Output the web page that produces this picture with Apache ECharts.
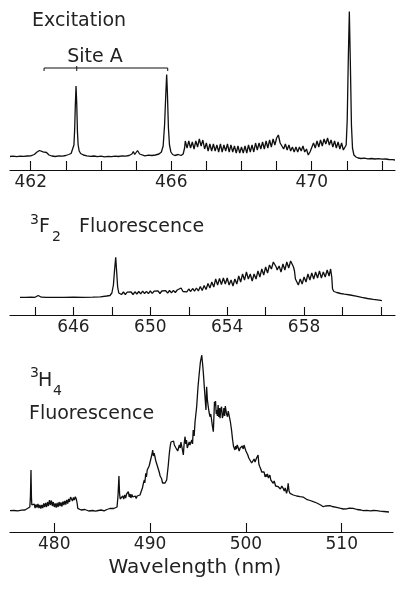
<!DOCTYPE html>
<html>
<head>
<meta charset="utf-8">
<script src="https://cdn.jsdelivr.net/npm/echarts@6/dist/echarts.min.js"></script>
<style>
html,body{margin:0;padding:0;background:#fff;}
#chart{width:405px;height:590px;}
</style>
</head>
<body>
<div id="chart"></div>
<script>
// ---------- Tick / label values ----------
const excTicks = [462,463,464,465,466,467,468,469,470,471,472];
const excLabels = [462,466,470];
const f2Ticks = [644,646,648,650,652,654,656,658,660,662];
const f2Labels = [646,650,654,658];
const h4Ticks = [480,490,500,510];
const h4Labels = [480,490,500,510];

// ---------- Excitation spectrum (wavelength nm, intensity a.u.) ----------
const excitation = [
[461.41,13.5],[461.5,13.8],[461.6,13.4],[461.7,13.9],[461.8,13.6],[461.9,14.0],[462.0,14.2],[462.1,15.5],[462.18,18],[462.25,19.5],[462.3,19],[462.35,18.2],[462.4,19],[462.45,17.5],[462.52,15],[462.6,14],[462.7,13.5],[462.8,14.2],[462.9,13.8],[463.0,14.5],[463.08,15.5],[463.15,16.5],[463.2,18],[463.23,25],[463.25,40],[463.27,65],[463.29,84],[463.31,66],[463.33,38],[463.35,25],[463.38,19],[463.42,16.5],[463.5,15],[463.6,14.2],[463.7,13.6],[463.8,14],[463.9,13.3],[464.0,13.8],[464.1,13.2],[464.2,13.7],[464.3,13.4],[464.4,13.9],[464.5,13.5],[464.6,14.2],[464.7,13.8],[464.8,14.5],[464.88,16],[464.92,18.5],[464.96,15.5],[465.0,16],[465.04,19.5],[465.07,20],[465.1,16],[465.15,14.5],[465.25,14.2],[465.35,14.8],[465.45,14.5],[465.55,15],[465.65,16],[465.72,18],[465.77,24],[465.81,45],[465.85,80],[465.87,95.5],[465.89,78],[465.92,42],[465.95,25],[465.99,18],[466.04,15.5],[466.1,14.5],[466.2,15.5],[466.28,14.5],[466.34,16],[466.38,22],
[466.40,29],[466.45,22],[466.50,29],[466.55,22],[466.60,28],[466.65,21],[466.70,29],[466.75,23],[466.80,31],[466.85,24],[466.90,30],[466.95,21],[467.00,27],[467.05,19],[467.10,26],[467.15,19],[467.20,26],[467.25,19],[467.30,25],[467.35,18],[467.40,26],[467.45,18],[467.50,25],[467.55,19],[467.60,26],[467.65,18],[467.70,25],[467.75,18],[467.80,24],[467.85,17],[467.90,24],[467.95,17],[468.00,23],[468.05,17],[468.10,24],[468.15,17],[468.20,25],[468.25,18],[468.30,25],[468.35,18],[468.40,27],[468.45,20],[468.50,27],[468.55,21],[468.60,28],[468.65,21],[468.70,29],[468.75,22],[468.80,30],[468.85,23],[468.90,31],[468.95,25],[469.00,32],[469.05,35],[469.10,27],[469.15,24],[469.20,21],[469.25,26],[469.30,20],[469.35,25],[469.40,19],[469.45,23],[469.50,18],[469.55,23],[469.60,18],[469.65,23],[469.70,19],[469.75,24],[469.80,18],[469.85,21],[469.90,15],[469.95,18],[470.00,20],[470.05,27],[470.10,22],[470.15,29],[470.20,23],[470.25,30],[470.30,24],[470.35,31],[470.40,26],[470.45,32],[470.50,25],[470.55,30],[470.60,23],[470.65,29],[470.70,22],[470.75,28],[470.80,21],[470.85,27],[470.90,20],[470.95,19],
[470.98,25],[471.01,50],[471.04,110],[471.07,158.5],[471.10,105],[471.13,45],[471.16,22],[471.2,15],[471.26,13],[471.32,12],[471.4,11.5],[471.5,11.8],[471.6,11.2],[471.7,11.5],[471.8,11],[471.9,11.3],[472.0,10.8],[472.1,11],[472.2,10.5],[472.3,10.3],[472.37,10]
];

// Site A bracket (wavelength nm, intensity a.u.)
const siteABracket = [[462.38,99],[462.38,102],[465.9,102],[465.9,99]];
const siteACenter = [[463.31,104],[463.31,99]];

// ---------- 3F2 fluorescence ----------
const f2Fluor = [
[643.22,17.7],[643.5,17.6],[643.8,17.8],[644.0,17.7],[644.1,17.9],[644.17,19.5],[644.21,20.7],[644.26,19],[644.33,17.8],[644.6,17.6],[645.0,17.7],[645.5,17.6],[646.0,17.8],[646.5,17.7],[647.0,17.9],[647.4,18.2],[647.73,19],[647.9,19.5],[648.0,22],[648.08,30],[648.14,45],[648.2,57.7],[648.25,43],[648.3,28],[648.36,22],[648.42,20],
[648.5,20.5],[648.6,23],[648.7,20.5],[648.8,22.8],[648.9,20.8],[649.0,23],[649.1,20.5],[649.2,23.2],[649.3,21],[649.4,23.5],[649.5,21.2],[649.6,23.8],[649.7,21.5],[649.8,23.6],[649.9,21.4],[650.0,24],[650.1,21.6],[650.2,23.8],[650.3,21.8],[650.4,24.2],[650.5,21.5],[650.6,24],[650.7,22],[650.8,24.3],[650.9,21.8],[651.0,24.5],[651.1,22.2],[651.2,24.6],[651.3,22.5],[651.4,25],[651.5,23],[651.6,27],[651.7,23.5],[651.8,25.5],[651.9,23.2],[652.0,26],[652.1,23.5],[652.2,26.5],[652.3,23.8],[652.4,27],
[652.5,24],[652.6,28.5],[652.7,24.5],[652.8,29.5],[652.9,25.5],[653.0,31.5],[653.1,27],[653.2,33],[653.3,28],[653.4,36],[653.5,30],[653.6,36.5],[653.7,30.5],[653.8,37],[653.9,31],[654.0,37],[654.1,30],[654.2,35],[654.3,29],[654.4,36],[654.5,31],[654.6,39],[654.7,33],[654.8,41],[654.9,35],[655.0,43],[655.1,36],[655.2,41],[655.3,34],[655.4,41],[655.5,36],[655.6,44],[655.7,38],[655.8,46],[655.9,40],[656.0,48],[656.1,42],[656.2,50],[656.3,46],[656.4,53],[656.47,54],[656.55,48],[656.6,45],[656.7,49],[656.8,43],[656.9,51],[657.0,45],[657.1,53],[657.2,47],[657.3,54],[657.4,55],[657.45,48],[657.5,44],[657.55,36],[657.6,34],[657.7,30],[657.8,36],[657.9,31],[658.0,38],[658.1,33],[658.2,41],[658.3,35],[658.4,42],[658.5,36],[658.6,43],[658.7,37],[658.8,44],[658.9,37],[659.0,43],[659.1,38],[659.2,45],[659.3,39],[659.38,46],[659.44,38],[659.48,26],
[659.55,23.5],[659.7,22.5],[659.9,21.5],[660.1,20.8],[660.4,20],[660.7,18.8],[661.0,17.6],[661.3,16.5],[661.6,15.6],[661.9,14.8],[662.05,14.3]
];

// ---------- 3H4 fluorescence ----------
const h4Fluor = [
[475.38,21.3],[475.8,21.5],[476.2,21.2],[476.6,21.8],[476.94,22],[477.2,23.5],[477.35,25.5],[477.45,25],[477.51,35],[477.55,52],[477.57,62],[477.59,50],[477.62,34],[477.66,27],[477.72,29],[477.8,25],[477.9,28],[478.0,24],[478.1,27.5],[478.2,24.5],[478.3,28],[478.4,24],[478.5,27],[478.6,23.5],[478.7,27],[478.8,24],[478.9,28.5],[479.0,25],[479.1,29],[479.2,25],[479.3,30],[479.4,26],[479.5,32],[479.6,27],[479.7,31.5],[479.8,26],[479.9,30],[480.0,25],[480.1,28.5],[480.2,24.5],[480.3,29],[480.4,25],[480.5,30],[480.6,26],[480.7,29.5],[480.8,25.5],[480.9,30.5],[481.0,27],[481.1,31],[481.2,27.5],[481.3,32],[481.4,28.5],[481.5,33],[481.6,30],[481.7,35],[481.8,36],[481.9,31],[482.0,34.5],[482.1,32],[482.2,35.3],[482.3,33],[482.4,28],[482.45,23.7],[482.6,22.5],[482.8,22],[483.0,23],[483.2,22.5],[483.4,21.5],[483.6,21],[483.8,21.8],[484.0,21.5],[484.3,20.8],[484.6,21.5],[484.9,22],[485.2,21.2],[485.5,22.5],[485.8,23.5],[486.0,25.3],[486.2,23.5],[486.4,24],[486.55,25],[486.65,36],[486.72,50],[486.75,56],[486.78,47],[486.82,38],[486.88,33],[486.95,35],[487.05,31],[487.15,36],[487.25,33],[487.35,37],[487.45,34],[487.55,38],[487.65,36],[487.73,40.3],[487.82,35],[487.92,38],[488.0,34],[488.1,37.5],[488.2,35],[488.25,37],[488.35,34],[488.45,36],[488.55,33.5],[488.65,36],[488.75,34],[488.85,35.5],[488.95,37],[489.05,40],[489.12,40.3],[489.2,44],[489.3,48.7],[489.4,52],[489.45,49],[489.55,58.7],[489.62,55],[489.7,62],[489.8,60],[489.9,66],[489.99,67],[490.05,72],[490.12,70],[490.2,78],[490.27,82],[490.35,76],[490.43,79],[490.51,75],[490.6,71],[490.68,73],[490.76,66],[490.86,65],[490.95,60],[491.05,56],[491.12,58],[491.2,53.3],[491.3,49],[491.38,51],[491.48,47],[491.56,49],[491.63,47.5],[491.73,52],[491.8,58],[491.9,67],[492.0,78],[492.1,86],[492.18,90],[492.25,92],[492.35,89],[492.45,91],[492.53,87],[492.6,88.7],[492.7,84],[492.8,86],[492.88,81],[492.95,82],[493.05,87],[493.15,84],[493.22,90],[493.3,90.3],[493.38,82],[493.47,77],[493.55,88],[493.65,95.3],[493.72,88],[493.8,92],[493.88,84],[494.0,82],[494.08,90],[494.16,87],[494.25,85],[494.35,92],[494.43,88],[494.5,102],[494.6,96],[494.69,110],[494.78,118],[494.86,125.3],[495.0,145],[495.13,158.7],[495.25,170],[495.39,177],[495.48,168],[495.56,158.7],[495.65,146],[495.73,135.3],[495.83,122],[495.9,145.3],[495.98,132],[496.07,125.3],[496.15,120],[496.25,115.3],[496.33,118],[496.42,112],[496.5,106],[496.6,100.3],[496.66,115],[496.72,130.3],[496.77,126],[496.83,131],[496.9,118],[496.95,122],[497.02,116],[497.1,127],[497.17,115],[497.24,124],[497.3,113.7],[497.38,123],[497.46,125.3],[497.54,114],[497.63,117],[497.7,124],[497.78,116],[497.85,126],[497.9,125.3],[497.98,118],[498.08,115.3],[498.16,121],[498.26,122],[498.38,110],[498.5,102],[498.6,93],[498.7,86],[498.78,84],[498.85,82],[498.93,86],[499.0,83],[499.1,87],[499.2,85.3],[499.3,81],[499.4,84],[499.53,82],[499.62,86],[499.72,83],[499.8,87],[499.88,85.3],[500.0,81],[500.1,80.3],[500.2,77],[500.3,74],[500.4,72],[500.5,74],[500.6,69],[500.75,70.3],[500.85,73],[500.95,70],[501.1,73.7],[501.2,72],[501.27,77],[501.35,68],[501.45,65.3],[501.55,63],[501.65,60],[501.8,58.7],[501.9,60],[502.0,55],[502.1,57.5],[502.15,55.3],[502.25,58],[502.35,54],[502.5,57],[502.6,52],[502.7,54],[502.85,48.7],[502.95,51],[503.1,46],[503.2,48],[503.37,45.3],[503.5,47],[503.6,43],[503.75,46],[503.89,43.7],[504.0,41],[504.1,44],[504.24,38.7],[504.33,42],[504.41,48.7],[504.5,41],[504.6,38.7],[504.75,40],[504.94,37],[505.1,37.5],[505.3,36],[505.45,37],[505.64,35.3],[505.8,34.5],[506.0,34.8],[506.15,33.2],[506.33,32.7],[506.5,32],[506.7,31.5],[506.85,31],[507.03,30.3],[507.2,29.5],[507.4,29],[507.55,28],[507.8,27],[508.07,25.3],[508.3,26],[508.5,25.5],[508.77,26.3],[509.0,25.5],[509.2,24.8],[509.46,24.7],[509.8,23.8],[510.16,23],[510.5,23.2],[510.8,23.8],[511.2,23.7],[511.6,22.5],[512.0,22],[512.25,21.3],[512.6,21.6],[513.0,21.2],[513.3,21.5],[513.64,21.3],[514.0,20.8],[514.4,20.5],[514.93,20]
];

// ---------- Chart ----------
const FONT = 'DejaVu Sans';
const INK = '#0f0f0f';
const TEXT_INK = '#222222';
const chart = echarts.init(document.getElementById('chart'), null, {renderer:'canvas'});

function xAxisCfg(gi, min, max, ticks, labels, tickLen, margin){
  return {
    gridIndex: gi, type: 'value', min: min, max: max,
    axisLine: {show: true, onZero: false, lineStyle: {color: INK, width: 1.2}},
    axisTick: {show: true, inside: true, length: tickLen, customValues: ticks, lineStyle: {color: INK, width: 1.1}},
    axisLabel: {show: true, customValues: labels, fontFamily: FONT, fontSize: 17, color: TEXT_INK, margin: margin},
    splitLine: {show: false}
  };
}
function yAxisCfg(gi, max){
  return {gridIndex: gi, type: 'value', min: 0, max: max, show: false, splitLine:{show:false}};
}
function lineSeries(xi, data, w){
  return {type: 'line', xAxisIndex: xi, yAxisIndex: xi, data: data, showSymbol: false, symbol: 'none',
    lineStyle: {color: INK, width: w || 1.2}, silent: true, animation: false, z: 3};
}
function txt(text, x, y, size, align){
  return {type: 'text', x: x, y: y, silent: true,
    style: {text: text, fontFamily: FONT, fontSize: size, fill: TEXT_INK, align: align || 'left', verticalAlign: 'middle'}};
}

chart.setOption({
  backgroundColor: '#ffffff',
  animation: false,
  grid: [
    {left: 10, width: 385, top: 10, height: 160},
    {left: 10, width: 385, top: 245, height: 70},
    {left: 10, width: 383, top: 350, height: 182}
  ],
  xAxis: [
    xAxisCfg(0, 461.41, 472.37, excTicks, excLabels, 9, 4),
    xAxisCfg(1, 642.70, 662.73, f2Ticks, f2Labels, 8, 4),
    xAxisCfg(2, 475.38, 515.35, h4Ticks, h4Labels, 9, 4)
  ],
  yAxis: [yAxisCfg(0, 160), yAxisCfg(1, 70), yAxisCfg(2, 182)],
  series: [
    lineSeries(0, excitation, 1.3),
    lineSeries(0, siteABracket, 1),
    lineSeries(0, siteACenter, 1),
    lineSeries(1, f2Fluor, 1.3),
    lineSeries(2, h4Fluor, 1.3)
  ],
  graphic: [
    txt('Excitation', 32, 21, 19),
    txt('Site A', 95, 57, 19, 'center'),
    txt('3', 30, 220, 14),
    txt('F', 39, 227, 19),
    txt('2', 52, 237, 14),
    txt('Fluorescence', 79, 227, 19),
    txt('3', 30, 373, 14),
    txt('H', 38, 381, 19),
    txt('4', 53, 391, 14),
    txt('Fluorescence', 29, 414, 19),
    txt('Wavelength (nm)', 195, 568, 20, 'center')
  ]
});
</script>
</body>
</html>
